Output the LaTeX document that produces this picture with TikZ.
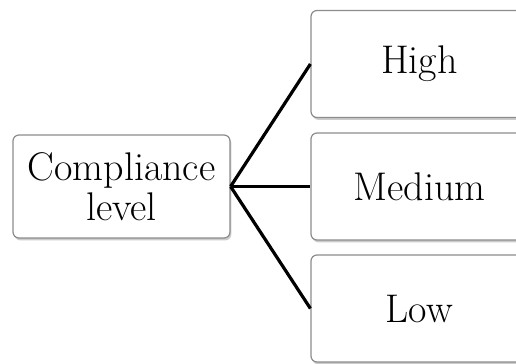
\documentclass[tikz,border=0pt]{standalone}
\usepackage{tikz}
\usetikzlibrary{positioning,shadows}

\begin{document}
\begin{tikzpicture}[
  x=0.5pt, y=-0.5pt,
  box/.style={draw=black!45, line width=0.6pt, rounded corners=3pt, fill=white, align=center,
    font=\fontsize{20}{20}\selectfont, inner sep=0pt,
    drop shadow={opacity=0.4, shadow xshift=0.7pt, shadow yshift=-1.2pt}},
  lvl/.style={box, minimum width=108.5pt, minimum height=53.5pt},
  link/.style={line width=1.6pt, black}
]
\useasboundingbox (0,0) rectangle (516,364);
\clip (0,0) rectangle (516,364);
\node[box, minimum width=108.5pt, minimum height=51.5pt] (comp) at (121.5,186.5) {Compliance\\level};
\node[lvl] (high) at (419.5,64) {High};
\node[lvl] (med) at (419.5,186.5) {Medium};
\node[lvl] (low) at (419.5,308.5) {Low};

\draw[link] (comp.east) -- (high.west);
\draw[link] (comp.east) -- (med.west);
\draw[link] (comp.east) -- (low.west);
\end{tikzpicture}
\end{document}
